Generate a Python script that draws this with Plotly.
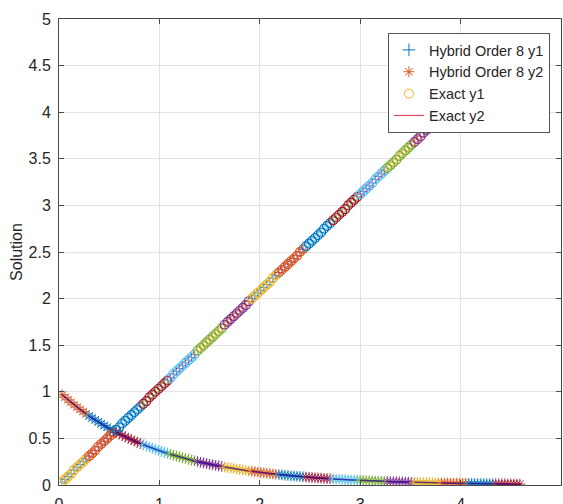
import plotly.graph_objects as go

# ---- data ----
x_values = [
    0.03, 0.06, 0.09, 0.12, 0.15, 0.18, 0.21, 0.24, 0.27,
    0.30, 0.33, 0.36, 0.39, 0.42, 0.45, 0.48, 0.51, 0.54,
    0.57, 0.60, 0.63, 0.66, 0.69, 0.72, 0.75, 0.78, 0.81,
    0.84, 0.87, 0.90, 0.93, 0.96, 0.99, 1.02, 1.05, 1.08,
    1.11, 1.14, 1.17, 1.20, 1.23, 1.26, 1.29, 1.32, 1.35,
    1.38, 1.41, 1.44, 1.47, 1.50, 1.53, 1.56, 1.59, 1.62,
    1.65, 1.68, 1.71, 1.74, 1.77, 1.80, 1.83, 1.86, 1.89,
    1.92, 1.95, 1.98, 2.01, 2.04, 2.07, 2.10, 2.13, 2.16,
    2.19, 2.22, 2.25, 2.28, 2.31, 2.34, 2.37, 2.40, 2.43,
    2.46, 2.49, 2.52, 2.55, 2.58, 2.61, 2.64, 2.67, 2.70,
    2.73, 2.76, 2.79, 2.82, 2.85, 2.88, 2.91, 2.94, 2.97,
    3.00, 3.03, 3.06, 3.09, 3.12, 3.15, 3.18, 3.21, 3.24,
    3.27, 3.30, 3.33, 3.36, 3.39, 3.42, 3.45, 3.48, 3.51,
    3.54, 3.57, 3.60, 3.63, 3.66, 3.69, 3.72, 3.75, 3.78,
    3.81, 3.84, 3.87, 3.90, 3.93, 3.96, 3.99, 4.02, 4.05,
    4.08, 4.11, 4.14, 4.17, 4.20, 4.23, 4.26, 4.29, 4.32,
    4.35, 4.38, 4.41, 4.44, 4.47, 4.50, 4.53, 4.56, 4.59,
]

exact_y1 = [
    0.03, 0.06, 0.09, 0.12, 0.16, 0.19, 0.22, 0.25, 0.28,
    0.31, 0.34, 0.37, 0.41, 0.44, 0.47, 0.50, 0.53, 0.56,
    0.59, 0.62, 0.66, 0.69, 0.72, 0.75, 0.78, 0.81, 0.84,
    0.87, 0.90, 0.94, 0.97, 1.00, 1.03, 1.06, 1.09, 1.12,
    1.15, 1.19, 1.22, 1.25, 1.28, 1.31, 1.34, 1.37, 1.40,
    1.44, 1.47, 1.50, 1.53, 1.56, 1.59, 1.62, 1.65, 1.68,
    1.72, 1.75, 1.78, 1.81, 1.84, 1.87, 1.90, 1.93, 1.97,
    2.00, 2.03, 2.06, 2.09, 2.12, 2.15, 2.18, 2.22, 2.25,
    2.28, 2.31, 2.34, 2.37, 2.40, 2.43, 2.46, 2.50, 2.53,
    2.56, 2.59, 2.62, 2.65, 2.68, 2.71, 2.75, 2.78, 2.81,
    2.84, 2.87, 2.90, 2.93, 2.96, 3.00, 3.03, 3.06, 3.09,
    3.12, 3.15, 3.18, 3.21, 3.24, 3.28, 3.31, 3.34, 3.37,
    3.40, 3.43, 3.46, 3.49, 3.53, 3.56, 3.59, 3.62, 3.65,
    3.68, 3.71, 3.74, 3.78, 3.81, 3.84, 3.87, 3.90, 3.93,
    3.96, 3.99, 4.02, 4.06, 4.09, 4.12, 4.15, 4.18, 4.21,
    4.24, 4.27, 4.31, 4.34, 4.37, 4.40, 4.43, 4.46, 4.49,
    4.52, 4.56, 4.59, 4.62, 4.65, 4.68, 4.71, 4.74, 4.77,
]

exact_y2 = [
    0.970, 0.942, 0.914, 0.887, 0.861, 0.835, 0.811, 0.787, 0.763,
    0.741, 0.719, 0.698, 0.677, 0.657, 0.638, 0.619, 0.600, 0.583,
    0.566, 0.549, 0.533, 0.517, 0.502, 0.487, 0.472, 0.458, 0.445,
    0.432, 0.419, 0.407, 0.395, 0.383, 0.372, 0.361, 0.350, 0.340,
    0.330, 0.320, 0.310, 0.301, 0.292, 0.284, 0.275, 0.267, 0.259,
    0.252, 0.244, 0.237, 0.230, 0.223, 0.217, 0.210, 0.204, 0.198,
    0.192, 0.186, 0.181, 0.176, 0.170, 0.165, 0.160, 0.156, 0.151,
    0.147, 0.142, 0.138, 0.134, 0.130, 0.126, 0.122, 0.119, 0.115,
    0.112, 0.109, 0.105, 0.102, 0.099, 0.096, 0.093, 0.091, 0.088,
    0.085, 0.083, 0.080, 0.078, 0.076, 0.074, 0.071, 0.069, 0.067,
    0.065, 0.063, 0.061, 0.060, 0.058, 0.056, 0.054, 0.053, 0.051,
    0.050, 0.048, 0.047, 0.045, 0.044, 0.043, 0.041, 0.040, 0.039,
    0.038, 0.037, 0.036, 0.035, 0.034, 0.033, 0.032, 0.031, 0.030,
    0.029, 0.028, 0.027, 0.027, 0.026, 0.025, 0.024, 0.024, 0.023,
    0.022, 0.021, 0.021, 0.020, 0.020, 0.019, 0.018, 0.018, 0.017,
    0.017, 0.016, 0.016, 0.015, 0.015, 0.015, 0.014, 0.014, 0.013,
    0.013, 0.012, 0.012, 0.012, 0.011, 0.011, 0.011, 0.010, 0.010,
]

# the hybrid solution is visually indistinguishable from the exact one
hybrid_y1 = list(exact_y1)
hybrid_y2 = list(exact_y2)

series_names = ["Hybrid Order 8 y1", "Hybrid Order 8 y2", "Exact y1", "Exact y2"]
x_ticks = [0, 1, 2, 3, 4, 5]
y_ticks = [0, 0.5, 1, 1.5, 2, 2.5, 3, 3.5, 4, 4.5, 5]

# ---- styling ----
PALETTE = ["#0072BD", "#D95319", "#EDB120", "#7E2F8E", "#77AC30", "#4DBEEE", "#A2142F"]
BLOCK = 9  # points per integration block (colour changes each block)
FONT = "Liberation Sans, Arial, Helvetica, sans-serif"
AXIS_COLOR = "#4a4a4a"
GRID_COLOR = "#e2e2e2"

fig = go.Figure()

n_blocks = (len(x_values) + BLOCK - 1) // BLOCK
for b in range(n_blocks):
    s = slice(b * BLOCK, (b + 1) * BLOCK)
    xs = x_values[s]
    c_plus = PALETTE[(0 - b) % 7]
    c_star = PALETTE[(1 - b) % 7]
    c_circ = PALETTE[(2 - b) % 7]
    fig.add_trace(go.Scatter(
        x=xs, y=hybrid_y1[s], mode="markers", showlegend=False, hoverinfo="skip",
        marker=dict(symbol="cross-thin-open", size=6, color=c_plus,
                    line=dict(color=c_plus, width=0.7))))
    fig.add_trace(go.Scatter(
        x=xs, y=hybrid_y2[s], mode="markers", showlegend=False, hoverinfo="skip",
        marker=dict(symbol="asterisk-open", size=9, color=c_star,
                    line=dict(color=c_star, width=0.9))))
    fig.add_trace(go.Scatter(
        x=xs, y=exact_y1[s], mode="markers", showlegend=False, hoverinfo="skip",
        marker=dict(symbol="circle-open", size=9, color=c_circ,
                    line=dict(color=c_circ, width=1.1))))
    fig.add_trace(go.Scatter(
        x=xs, y=exact_y2[s], mode="lines", showlegend=False, hoverinfo="skip",
        line=dict(color="rgba(40,0,150,0.7)", width=1.5)))

# legend entries (no data drawn)
fig.add_trace(go.Scatter(x=[None], y=[None], mode="markers", name=series_names[0],
                         marker=dict(symbol="cross-thin-open", size=9, color=PALETTE[0],
                                     line=dict(color=PALETTE[0], width=1))))
fig.add_trace(go.Scatter(x=[None], y=[None], mode="markers", name=series_names[1],
                         marker=dict(symbol="asterisk-open", size=9, color=PALETTE[1],
                                     line=dict(color=PALETTE[1], width=1))))
fig.add_trace(go.Scatter(x=[None], y=[None], mode="markers", name=series_names[2],
                         marker=dict(symbol="circle-open", size=9, color=PALETTE[2],
                                     line=dict(color=PALETTE[2], width=1))))
fig.add_trace(go.Scatter(x=[None], y=[None], mode="lines", name=series_names[3],
                         line=dict(color="#DE4B5E", width=1.2)))

axis_common = dict(
    showgrid=True, gridcolor=GRID_COLOR, gridwidth=1,
    zeroline=False, showline=True, linecolor=AXIS_COLOR, linewidth=1,
    mirror="ticks", ticks="inside", ticklen=5, tickcolor=AXIS_COLOR,
    tickfont=dict(family=FONT, size=16, color="#262626"),
    automargin=False,
)

fig.update_layout(
    width=563, height=504,
    margin=dict(l=59, r=2, t=19, b=19),
    paper_bgcolor="white", plot_bgcolor="white",
    font=dict(family=FONT, color="#262626"),
    xaxis=dict(range=[0, 5], tickvals=x_ticks, ticklabelstandoff=5, **axis_common),
    yaxis=dict(range=[0, 5], tickvals=y_ticks, ticklabelstandoff=4,
               title=dict(text="Solution", font=dict(family=FONT, size=16, color="#262626"),
                          standoff=1),
               **axis_common),
    legend=dict(x=0.978, y=0.97, xanchor="right", yanchor="top",
                bgcolor="white", bordercolor="#555555", borderwidth=1,
                font=dict(family=FONT, size=14.5, color="#262626"),
                tracegroupgap=0),
    showlegend=True,
)

fig.write_html(
    "out.html",
    config={"displayModeBar": False},
    post_script="document.body.style.margin='0';document.body.style.overflow='hidden';",
)
